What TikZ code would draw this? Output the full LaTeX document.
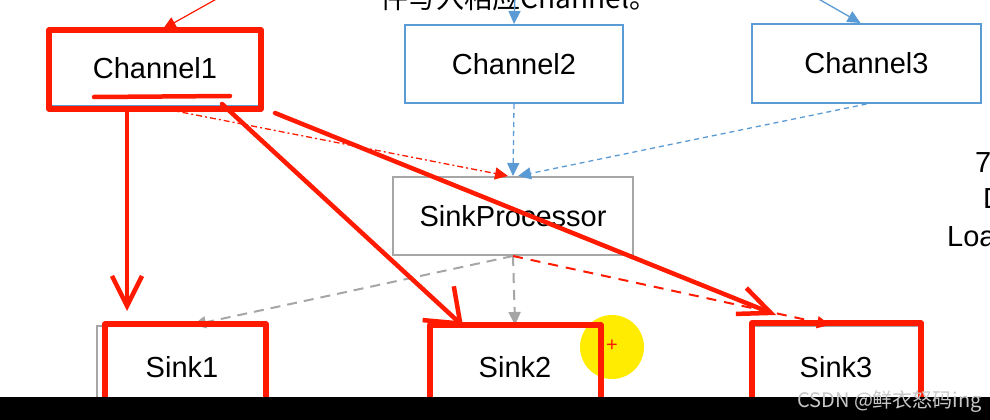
\documentclass[tikz,border=0pt]{standalone}
\usepackage{fontspec}
\setmainfont{Liberation Sans}
\newfontfamily\cjkfont{Noto Sans CJK SC}
\usetikzlibrary{arrows.meta,calc}

\definecolor{chanblue}{RGB}{91,155,213}
\definecolor{boxgray}{RGB}{166,166,166}
\definecolor{markred}{RGB}{255,26,0}
\definecolor{hiyellow}{RGB}{255,236,0}
\definecolor{wmgray}{RGB}{200,200,200}

\begin{document}
\begin{tikzpicture}[
  x=1pt, y=-1pt,
  font=\fontsize{29}{34}\selectfont,
  >={Triangle[length=13pt,width=12pt]},
  chanbox/.style ={draw=chanblue,line width=2pt,fill=white,inner sep=0pt,
                   minimum width=218pt,minimum height=78pt},
  procbox/.style ={draw=boxgray,line width=2pt,fill=white,inner sep=0pt,
                   minimum width=240pt,minimum height=78pt},
  sinkbox/.style ={draw=boxgray,line width=2pt,fill=white,inner sep=0pt,
                   minimum width=170pt,minimum height=82pt},
  blueflow/.style={->,chanblue,line width=1.3pt,dash pattern=on 5pt off 4pt},
  grayflow/.style={->,boxgray,line width=2pt,dash pattern=on 10pt off 7pt},
  redbox/.style  ={draw=markred,line width=5.5pt,line join=round},
  handline/.style={markred,line width=4.5pt,line cap=round,line join=round},
]
\clip (0,0) rectangle (990,420);
\fill[white] (0,0) rectangle (990,420);

%% =============================================
%% Channels on top
%% =============================================
\node[chanbox,minimum width=210pt,minimum height=76pt] (ch1) at (155,68) {Channel1};
\node[chanbox] (ch2) at (514,64) {Channel2};
\node[chanbox,minimum width=229pt,minimum height=79pt] (ch3) at (866.5,63.5) {Channel3};

% cut-off sentence above the channels
\node[anchor=base,inner sep=0pt,font=\cjkfont\fontsize{28}{30}\selectfont] (note)
  at (519,9) {件写入相应Channel。};

%% =============================================
%% Processor and sinks
%% =============================================
\node[procbox] (proc) at (513,216) {SinkProcessor};

\node[sinkbox] (sink1) at (182,367) {Sink1};
\node[sinkbox,minimum width=172pt] (sink2) at (515,367) {Sink2};
\node[sinkbox,minimum width=172pt] (sink3) at (836,367) {Sink3};

% text cut at the right edge
\node[anchor=base west,inner sep=0pt] (rt1) at (975,172) {7};
\node[anchor=base west,inner sep=0pt] (rt2) at (983,208) {D};
\node[anchor=base west,inner sep=0pt] (rt3) at (947,246) {Loa};

%% =============================================
%% Connections
%% =============================================
\coordinate (inred)   at (220,-3);
\coordinate (inmid)   at (515,-3);
\coordinate (inright) at (815,-3);

\draw[->,markred,line width=1.2pt] (inred) -- ($(ch1.north)+(8,0)$);
\draw[->,chanblue,line width=1.3pt] (inmid) -- (ch2.north);
\draw[->,chanblue,line width=1.3pt] (inright) -- ($(ch3.north)+(-6,0)$);

\draw[blueflow] (ch2.south) -- (proc.north);
\draw[blueflow] (ch3.south) -- ($(proc.north)+(5,0)$);
\draw[->,markred,line width=1.3pt,dash pattern=on 6pt off 3pt on 2pt off 3pt]
  (ch1.south) -- ($(proc.north)+(-5,0)$);

\draw[grayflow] (proc.south) -- ($(sink1.north)+(11,0)$);
\draw[grayflow] (proc.south) -- (sink2.north);
\draw[->,markred,line width=2pt,dash pattern=on 10pt off 8pt]
  (proc.south) -- ($(sink3.north)+(-6,0)$);

%% =============================================
%% Cursor highlight
%% =============================================
\fill[hiyellow] (612,347) circle (32pt);
\node[markred,inner sep=0pt,font=\fontsize{20}{20}\selectfont] (cursor) at (612,346) {+};

%% =============================================
%% Hand-drawn red marks
%% =============================================
\draw[redbox] ($(ch1.north west)+(0,1)$) rectangle ($(ch1.south east)+(0,2)$);
\draw[redbox] ($(sink1.north west)+(9,-1)$) rectangle ($(sink1.south east)+(-2,0)$);
\draw[redbox] ($(sink2.north west)+(2,0)$) rectangle ($(sink2.south east)+(-1,0)$);
\draw[redbox] ($(sink3.north west)+(3,-2)$) rectangle ($(sink3.south east)+(-2,0)$);

\coordinate (ul1)  at (94,97);
\coordinate (ul2)  at (230,96);
\coordinate (ch1l) at (127,112);
\coordinate (ch1m) at (222,104);
\coordinate (ch1r) at (275,113);

\draw[handline] (ul1) -- (ul2);
\draw[handline,-{Straight Barb[length=30pt,width=30pt]},shorten >=14pt]
  (ch1l) -- (ch1l |- sink1.north);
\draw[handline,-{Straight Barb[length=30pt,width=46pt]}]
  (ch1m) -- ($(sink2.north west)+(35,1)$);
\draw[handline,-{Straight Barb[length=32pt,width=28pt]}]
  (ch1r) -- ($(sink3.north west)+(27,-10)$);

%% =============================================
%% Bottom bar and watermark
%% =============================================
\fill[black] (0,397) rectangle (990,420);
\node[anchor=base west,inner sep=0pt,text=wmgray,font=\cjkfont\fontsize{20}{22}\selectfont] (wm)
  at (797,407) {CSDN @鲜衣怒码ing};

\end{tikzpicture}
\end{document}
